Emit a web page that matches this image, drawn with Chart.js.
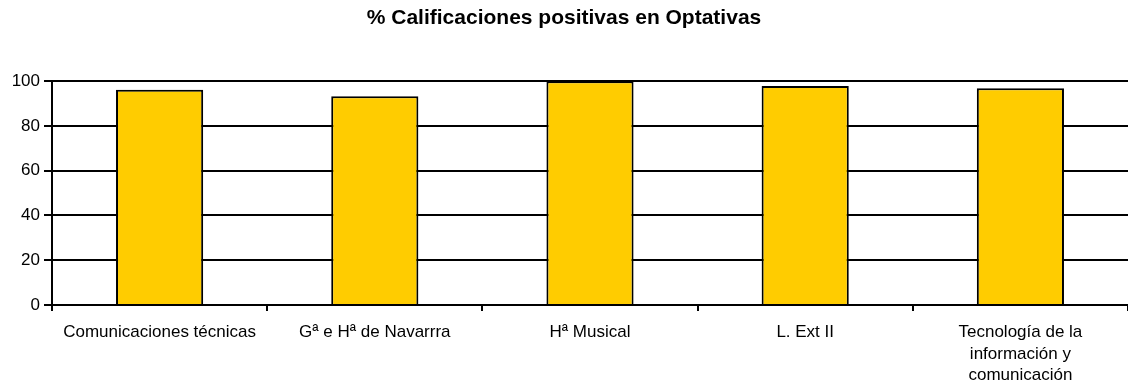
<!DOCTYPE html>
<html>
<head>
<meta charset="utf-8">
<script src="https://cdn.jsdelivr.net/npm/chart.js@4"></script>
<style>
  html, body { margin: 0; padding: 0; background: #fff; }
  #wrap { width: 1128px; height: 389px; position: relative; }
</style>
</head>
<body>
<div id="wrap"><canvas id="chart"></canvas></div>
<script>
// Subjects (optional courses) and share of passing grades, in %
const categories = [
  'Comunicaciones técnicas',
  'Gª e Hª de Navarrra',
  'Hª Musical',
  'L. Ext II',
  ['Tecnología de la', 'información y', 'comunicación']
];
const passRates = [96.2, 93.3, 100, 97.9, 96.9];
const yTicks = [0, 20, 40, 60, 80, 100];

const FONT = '"Liberation Sans", Arial, sans-serif';

new Chart(document.getElementById('chart'), {
  type: 'bar',
  data: {
    labels: categories,
    datasets: [{
      data: passRates,
      backgroundColor: '#FFCC00',
      borderColor: '#000000',
      borderWidth: 2,
      categoryPercentage: 1,
      barPercentage: 0.405
    }]
  },
  options: {
    responsive: true,
    maintainAspectRatio: false,
    animation: false,
    layout: { padding: { left: 0, right: 0, top: 0, bottom: 0 } },
    plugins: {
      legend: { display: false },
      tooltip: { enabled: false },
      title: {
        display: true,
        text: '% Calificaciones positivas en Optativas',
        color: '#000',
        font: { family: FONT, size: 21, weight: 'bold', lineHeight: 1.2 },
        padding: { top: 6, bottom: 50 }
      }
    },
    scales: {
      x: {
        offset: true,
        grid: {
          offset: true,
          drawOnChartArea: false,
          drawTicks: true,
          tickLength: 6,
          color: '#000',
          lineWidth: 2
        },
        border: { color: '#000', width: 2 },
        ticks: {
          color: '#000',
          font: { family: FONT, size: 17, lineHeight: 1.25 },
          maxRotation: 0,
          autoSkip: false,
          padding: 11
        },
        afterFit(scale) { scale.height = 84; }
      },
      y: {
        min: 0,
        max: 100,
        afterBuildTicks(scale) { scale.ticks = yTicks.map(v => ({ value: v })); },
        grid: {
          color: '#000',
          lineWidth: 2,
          tickLength: 8
        },
        border: { color: '#000', width: 2 },
        ticks: {
          color: '#000',
          font: { family: FONT, size: 17 },
          padding: 4
        },
        afterFit(scale) { scale.width = 52; }
      }
    }
  }
});
</script>
</body>
</html>
